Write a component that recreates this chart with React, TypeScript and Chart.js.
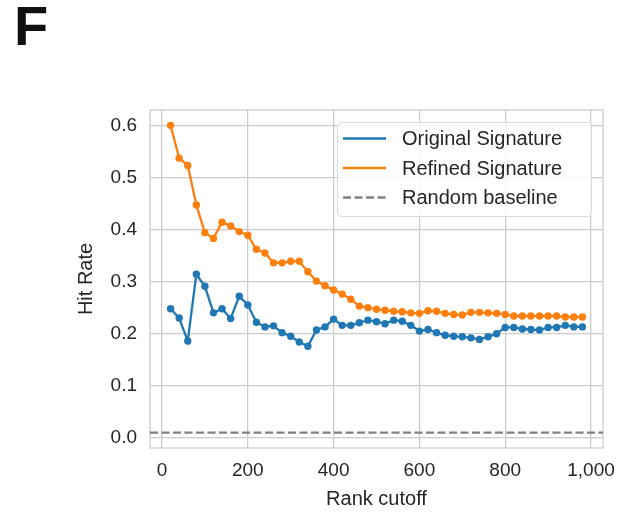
import React, { useEffect, useRef } from "react";
import { Chart, registerables } from "chart.js";

Chart.register(...registerables);

// ---- data ----
const RANK_CUTOFF = [
  20, 40, 60, 80, 100, 120, 140, 160, 180, 200,
  220, 240, 260, 280, 300, 320, 340, 360, 380, 400,
  420, 440, 460, 480, 500, 520, 540, 560, 580, 600,
  620, 640, 660, 680, 700, 720, 740, 760, 780, 800,
  820, 840, 860, 880, 900, 920, 940, 960, 980,
];
const ORIGINAL = [
  0.248, 0.230, 0.186, 0.314, 0.291, 0.240, 0.248, 0.229, 0.272, 0.255,
  0.222, 0.213, 0.215, 0.202, 0.195, 0.184, 0.176, 0.207, 0.213, 0.228,
  0.216, 0.216, 0.221, 0.226, 0.223, 0.219, 0.226, 0.224, 0.216, 0.205,
  0.208, 0.202, 0.197, 0.195, 0.194, 0.192, 0.189, 0.194, 0.200, 0.212,
  0.212, 0.209, 0.208, 0.207, 0.212, 0.212, 0.216, 0.213, 0.213,
];
const REFINED = [
  0.600, 0.537, 0.523, 0.447, 0.394, 0.383, 0.414, 0.407, 0.396, 0.389,
  0.362, 0.355, 0.336, 0.336, 0.339, 0.339, 0.319, 0.301, 0.292, 0.284,
  0.276, 0.266, 0.253, 0.250, 0.247, 0.245, 0.243, 0.242, 0.240, 0.239,
  0.244, 0.243, 0.239, 0.237, 0.236, 0.241, 0.241, 0.240, 0.239, 0.237,
  0.234, 0.234, 0.234, 0.234, 0.234, 0.234, 0.232, 0.232, 0.232,
];
const BASELINE = 0.0102;
const X_TICKS = [0, 200, 400, 600, 800, 1000];
const Y_TICKS = [0.0, 0.1, 0.2, 0.3, 0.4, 0.5, 0.6];
const X_MIN = -28;
const X_MAX = 1028;
const Y_MIN = -0.0195;
const Y_MAX = 0.6295;
const SERIES_LABELS = ["Original Signature", "Refined Signature", "Random baseline"];
const PANEL = "F";
const X_LABEL = "Rank cutoff";
const Y_LABEL = "Hit Rate";

// ---- styles ----
const FONT = "'Liberation Sans', Arial, sans-serif";
const TEXT = "#262626";
const GRID = "#cccccc";
const BLUE = "#1f77b4";
const ORANGE = "#ff7f0e";
const GRAY = "#808080";

const framePlugin = {
  id: "frame",
  beforeDatasetsDraw(chart: any) {
    const { ctx, chartArea } = chart;
    ctx.save();
    ctx.strokeStyle = GRID;
    ctx.lineWidth = 1.3;
    ctx.strokeRect(chartArea.left, chartArea.top, chartArea.right - chartArea.left, chartArea.bottom - chartArea.top);
    ctx.restore();
  },
};

const legendAndPanelPlugin = {
  id: "boxLegend",
  afterDraw(chart: any) {
    const { ctx, chartArea } = chart;
    ctx.save();
    // panel letter
    ctx.fillStyle = "#111111";
    ctx.font = `bold 56px ${FONT}`;
    ctx.textBaseline = "alphabetic";
    ctx.textAlign = "left";
    ctx.fillText(PANEL, 14, 45);

    // legend box
    const w = 254;
    const h = 94;
    const x0 = chartArea.right - 12 - w;
    const y0 = chartArea.top + 12;
    ctx.beginPath();
    (ctx as any).roundRect(x0 + 0.5, y0 + 0.5, w, h, 4);
    ctx.fillStyle = "rgba(255,255,255,0.8)";
    ctx.fill();
    ctx.strokeStyle = "#d9d9d9";
    ctx.lineWidth = 1;
    ctx.stroke();
    chart.data.datasets.forEach((ds: any, i: number) => {
      const cy = y0 + 16.5 + i * 29.5;
      ctx.beginPath();
      ctx.setLineDash(ds.borderDash || []);
      ctx.moveTo(x0 + 6, cy);
      ctx.lineTo(x0 + 49, cy);
      ctx.strokeStyle = ds.borderColor;
      ctx.lineWidth = ds.borderWidth;
      ctx.stroke();
      ctx.setLineDash([]);
      ctx.fillStyle = TEXT;
      ctx.font = `20px ${FONT}`;
      ctx.textBaseline = "middle";
      ctx.fillText(ds.label, x0 + 65, cy + 1);
    });
    ctx.restore();
  },
};

export default function App() {
  const ref = useRef<HTMLCanvasElement | null>(null);

  useEffect(() => {
    if (!ref.current) return;
    const chart = new Chart(ref.current, {
      type: "line",
      data: {
        datasets: [
          {
            label: SERIES_LABELS[0],
            data: RANK_CUTOFF.map((x, i) => ({ x, y: ORIGINAL[i] })),
            borderColor: BLUE,
            backgroundColor: BLUE,
            borderWidth: 2.3,
            pointRadius: 3.7,
            pointBorderWidth: 0,
            pointHoverRadius: 3.7,
            tension: 0,
          },
          {
            label: SERIES_LABELS[1],
            data: RANK_CUTOFF.map((x, i) => ({ x, y: REFINED[i] })),
            borderColor: ORANGE,
            backgroundColor: ORANGE,
            borderWidth: 2.3,
            pointRadius: 3.7,
            pointBorderWidth: 0,
            pointHoverRadius: 3.7,
            tension: 0,
          },
          {
            label: SERIES_LABELS[2],
            data: [
              { x: X_MIN, y: BASELINE },
              { x: X_MAX, y: BASELINE },
            ],
            borderColor: GRAY,
            backgroundColor: GRAY,
            borderWidth: 2.3,
            borderDash: [8, 3.5],
            pointRadius: 0,
            tension: 0,
          },
        ],
      },
      options: {
        responsive: false,
        animation: false,
        events: [],
        layout: { padding: { left: 0, right: 18, top: 110, bottom: 0 } },
        plugins: {
          legend: { display: false },
          title: { display: false },
          tooltip: { enabled: false },
        },
        scales: {
          x: {
            type: "linear",
            min: X_MIN,
            max: X_MAX,
            afterBuildTicks: (scale: any) => {
              scale.ticks = X_TICKS.map((v) => ({ value: v }));
            },
            afterFit: (scale: any) => {
              scale.height = 70;
              scale.paddingLeft = 0;
              scale.paddingRight = 0;
            },
            grid: { color: GRID, lineWidth: 1.3, drawTicks: false },
            border: { display: false },
            ticks: {
              color: TEXT,
              font: { family: FONT, size: 19 },
              padding: 11,
              maxRotation: 0,
              callback: (v: any) => Number(v).toLocaleString("en-US"),
            },
            title: {
              display: true,
              text: X_LABEL,
              color: TEXT,
              font: { family: FONT, size: 20 },
              padding: { top: 0, bottom: 7 },
            },
          },
          y: {
            type: "linear",
            min: Y_MIN,
            max: Y_MAX,
            afterBuildTicks: (scale: any) => {
              scale.ticks = Y_TICKS.map((v) => ({ value: v }));
            },
            afterFit: (scale: any) => {
              scale.width = 150;
              scale.paddingTop = 0;
              scale.paddingBottom = 0;
            },
            grid: { color: GRID, lineWidth: 1.3, drawTicks: false },
            border: { display: false },
            ticks: {
              color: TEXT,
              font: { family: FONT, size: 19 },
              padding: 13,
              callback: (v: any) => Number(v).toFixed(1),
            },
            title: {
              display: true,
              text: Y_LABEL,
              color: TEXT,
              font: { family: FONT, size: 20 },
              padding: { top: 74, bottom: 0 },
            },
          },
        },
      },
      plugins: [framePlugin, legendAndPanelPlugin],
    } as any);
    return () => chart.destroy();
  }, []);

  return (
    <div style={{ position: "absolute", left: 0, top: 0, width: 621, height: 518 }}>
      <canvas ref={ref} width={621} height={518} style={{ display: "block", width: 621, height: 518 }} />
    </div>
  );
}
